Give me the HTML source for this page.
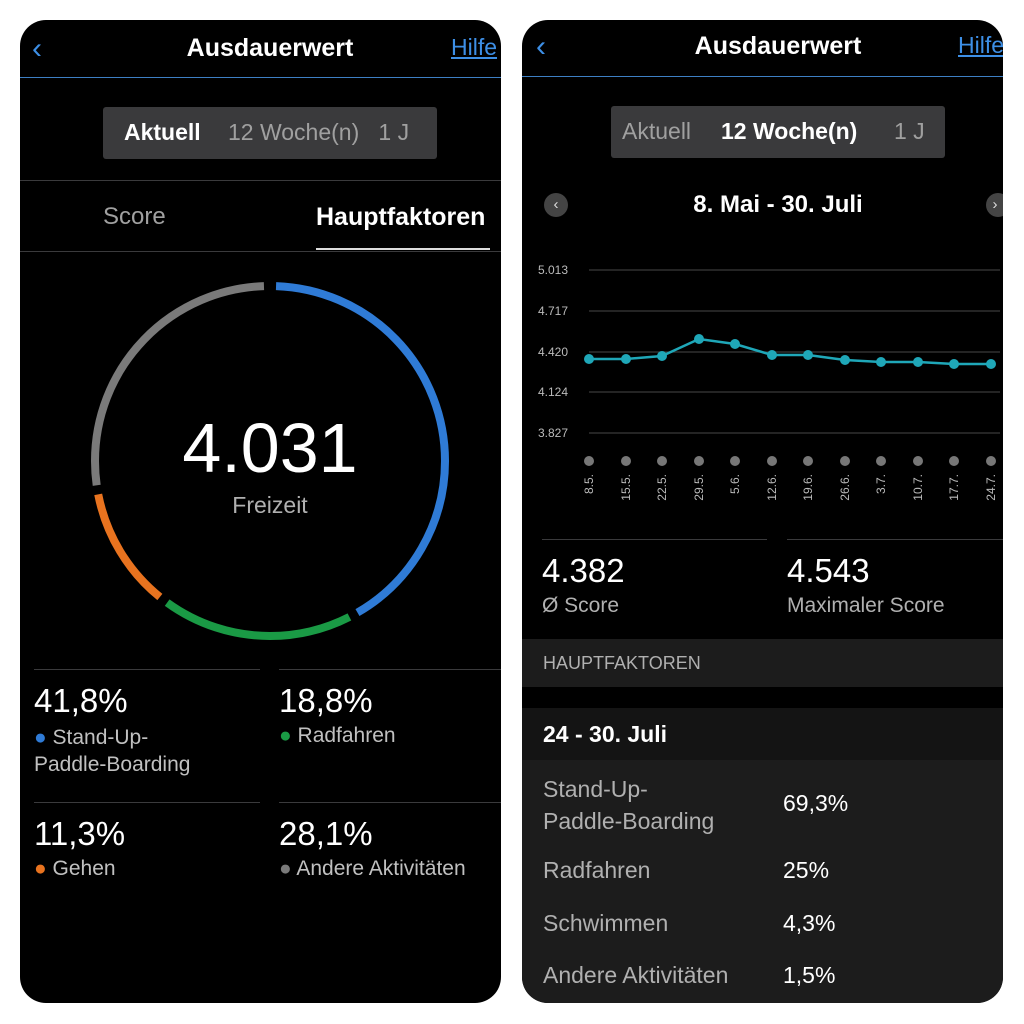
<!DOCTYPE html>
<html><head><meta charset="utf-8"><style>
*{margin:0;padding:0;box-sizing:border-box}
body{width:1024px;height:1024px;background:#fff;position:relative;overflow:hidden;font-family:"Liberation Sans",sans-serif;color:#fff}
.p{position:absolute;background:#000;border-radius:26px;overflow:hidden}
.a{position:absolute;white-space:nowrap}
.hl{position:absolute;height:1px;background:#3a3a3c}
</style></head><body>
<div class="p" style="left:20px;top:20px;width:481px;height:983px">
 <div class="a" style="left:12px;top:12px;color:#3d8fe6;font-size:30px">‹</div>
 <div class="a" style="left:0;width:500px;text-align:center;top:14px;font-size:25px;font-weight:bold">Ausdauerwert</div>
 <div class="a" style="left:431px;top:14px;font-size:23px;color:#3d8fe6;text-decoration:underline">Hilfe</div>
 <div style="position:absolute;left:0;top:57px;width:481px;height:1px;background:#3d7fc4"></div>
 <div style="position:absolute;left:83px;top:87px;width:334px;height:52px;background:#3a3a3c;border-radius:3px"></div>
 <div class="a" style="left:104px;top:99px;font-size:23px;font-weight:bold">Aktuell</div>
 <div class="a" style="left:208px;top:99px;font-size:23px;color:#a0a0a0">12 Woche(n)&nbsp;&nbsp;&nbsp;1 J</div>
 <div class="hl" style="left:0;top:160px;width:481px"></div>
 <div class="a" style="left:83px;top:183px;font-size:24px;color:#a0a0a0">Score</div>
 <div class="a" style="left:296px;top:183px;font-size:25px;font-weight:bold">Hauptfaktoren</div>
 <div style="position:absolute;left:296px;top:228px;width:174px;height:2px;background:#ddd"></div>
 <div class="hl" style="left:0;top:231px;width:481px"></div>
 <svg style="position:absolute;left:0;top:0" width="481" height="983">
  <g transform="translate(250,441) rotate(-90)" fill="none" stroke-width="8">
   <circle r="175" pathLength="360" stroke="#2f7bd6" stroke-dasharray="0 2 148 400"/>
   <circle r="175" pathLength="360" stroke="#1a9a45" stroke-dasharray="0 153 63 400"/>
   <circle r="175" pathLength="360" stroke="#e8731f" stroke-dasharray="0 219 40 400"/>
   <circle r="175" pathLength="360" stroke="#7a7a7a" stroke-dasharray="0 262 96 400"/>
  </g>
 </svg>
 <div class="a" style="left:0;width:500px;text-align:center;top:388px;font-size:70px">4.031</div>
 <div class="a" style="left:0;width:500px;text-align:center;top:472px;font-size:23px;color:#b0b0b0">Freizeit</div>
 <div class="hl" style="left:14px;top:649px;width:226px"></div>
 <div class="hl" style="left:259px;top:649px;width:222px"></div>
 <div class="a" style="left:14px;top:662px;font-size:33px">41,8%</div>
 <div class="a" style="left:14px;top:704px;font-size:21px;color:#c0c0c0;line-height:27px"><span style="color:#2f7bd6">●</span> Stand-Up-<br>Paddle-Boarding</div>
 <div class="a" style="left:259px;top:662px;font-size:33px">18,8%</div>
 <div class="a" style="left:259px;top:704px;font-size:21px;color:#c0c0c0"><span style="color:#1a9a45">●</span> Radfahren</div>
 <div class="hl" style="left:14px;top:782px;width:226px"></div>
 <div class="hl" style="left:259px;top:782px;width:222px"></div>
 <div class="a" style="left:14px;top:795px;font-size:33px">11,3%</div>
 <div class="a" style="left:14px;top:837px;font-size:21px;color:#c0c0c0"><span style="color:#e8731f">●</span> Gehen</div>
 <div class="a" style="left:259px;top:795px;font-size:33px">28,1%</div>
 <div class="a" style="left:259px;top:837px;font-size:21px;color:#c0c0c0"><span style="color:#7a7a7a">●</span> Andere Aktivitäten</div>
</div>

<div class="p" style="left:522px;top:20px;width:481px;height:983px">
 <div class="a" style="left:14px;top:10px;color:#3d8fe6;font-size:30px">‹</div>
 <div class="a" style="left:0;width:512px;text-align:center;top:12px;font-size:25px;font-weight:bold">Ausdauerwert</div>
 <div class="a" style="left:436px;top:12px;font-size:23px;color:#3d8fe6;text-decoration:underline">Hilfe</div>
 <div style="position:absolute;left:0;top:56px;width:481px;height:1px;background:#3d7fc4"></div>
 <div style="position:absolute;left:89px;top:86px;width:334px;height:52px;background:#3a3a3c;border-radius:3px"></div>
 <div class="a" style="left:100px;top:98px;font-size:23px;color:#a0a0a0">Aktuell</div>
 <div class="a" style="left:199px;top:98px;font-size:23px;font-weight:bold">12 Woche(n)</div>
 <div class="a" style="left:372px;top:98px;font-size:23px;color:#a0a0a0">1 J</div>
 <div style="position:absolute;left:22px;top:173px;width:24px;height:24px;border-radius:50%;background:#444;color:#ddd;font-size:15px;text-align:center;line-height:23px">‹</div>
 <div style="position:absolute;left:464px;top:173px;width:24px;height:24px;border-radius:50%;background:#444;color:#ddd;font-size:15px;text-align:center;line-height:23px;text-indent:-6px">›</div>
 <div class="a" style="left:0;width:512px;text-align:center;top:171px;font-size:24px;font-weight:bold">8. Mai - 30. Juli</div>
 <svg style="position:absolute;left:0;top:0" width="481" height="520" font-family="Liberation Sans" font-size="12" fill="#bbb">
  <g stroke="#3a3a3a" stroke-width="1.3">
   <line x1="67" x2="478" y1="250" y2="250"/><line x1="67" x2="478" y1="291" y2="291"/>
   <line x1="67" x2="478" y1="332" y2="332"/><line x1="67" x2="478" y1="372" y2="372"/>
   <line x1="67" x2="478" y1="413" y2="413"/>
  </g>
  <g text-anchor="end"><text x="46" y="254">5.013</text><text x="46" y="295">4.717</text><text x="46" y="336">4.420</text><text x="46" y="376">4.124</text><text x="46" y="417">3.827</text></g>
  <polyline fill="none" stroke="#1fa7b8" stroke-width="2.5" points="67,339 104,339 140,336 177,319 213,324 250,335 286,335 323,340 359,342 396,342 432,344 469,344"/>
  <g fill="#1fa7b8"><circle cx="67" cy="339" r="5"/><circle cx="104" cy="339" r="5"/><circle cx="140" cy="336" r="5"/><circle cx="177" cy="319" r="5"/><circle cx="213" cy="324" r="5"/><circle cx="250" cy="335" r="5"/><circle cx="286" cy="335" r="5"/><circle cx="323" cy="340" r="5"/><circle cx="359" cy="342" r="5"/><circle cx="396" cy="342" r="5"/><circle cx="432" cy="344" r="5"/><circle cx="469" cy="344" r="5"/></g>
  <g fill="#777"><circle cx="67" cy="441" r="5"/><circle cx="104" cy="441" r="5"/><circle cx="140" cy="441" r="5"/><circle cx="177" cy="441" r="5"/><circle cx="213" cy="441" r="5"/><circle cx="250" cy="441" r="5"/><circle cx="286" cy="441" r="5"/><circle cx="323" cy="441" r="5"/><circle cx="359" cy="441" r="5"/><circle cx="396" cy="441" r="5"/><circle cx="432" cy="441" r="5"/><circle cx="469" cy="441" r="5"/></g>
  <g text-anchor="end" font-size="12">
   <text transform="translate(71,454) rotate(-90)">8.5.</text><text transform="translate(108,454) rotate(-90)">15.5.</text><text transform="translate(144,454) rotate(-90)">22.5.</text><text transform="translate(181,454) rotate(-90)">29.5.</text><text transform="translate(217,454) rotate(-90)">5.6.</text><text transform="translate(254,454) rotate(-90)">12.6.</text><text transform="translate(290,454) rotate(-90)">19.6.</text><text transform="translate(327,454) rotate(-90)">26.6.</text><text transform="translate(363,454) rotate(-90)">3.7.</text><text transform="translate(400,454) rotate(-90)">10.7.</text><text transform="translate(436,454) rotate(-90)">17.7.</text><text transform="translate(473,454) rotate(-90)">24.7.</text>
  </g>
 </svg>
 <div class="hl" style="left:20px;top:519px;width:225px"></div>
 <div class="hl" style="left:265px;top:519px;width:216px"></div>
 <div class="a" style="left:20px;top:532px;font-size:33px">4.382</div>
 <div class="a" style="left:20px;top:574px;font-size:21px;color:#b0b0b0">Ø Score</div>
 <div class="a" style="left:265px;top:532px;font-size:33px">4.543</div>
 <div class="a" style="left:265px;top:574px;font-size:21px;color:#b0b0b0">Maximaler Score</div>
 <div style="position:absolute;left:0;top:619px;width:481px;height:48px;background:#1c1c1c"></div>
 <div class="a" style="left:21px;top:633px;font-size:18px;color:#b0b0b0">HAUPTFAKTOREN</div>
 <div style="position:absolute;left:0;top:688px;width:481px;height:52px;background:#141414"></div>
 <div class="a" style="left:21px;top:701px;font-size:23px;font-weight:bold">24 - 30. Juli</div>
 <div style="position:absolute;left:0;top:740px;width:481px;height:243px;background:#1c1c1c"></div>
 <div class="a" style="left:21px;top:753px;font-size:23px;color:#b0b0b0;line-height:32px">Stand-Up-<br>Paddle-Boarding</div>
 <div class="a" style="left:261px;top:770px;font-size:23px">69,3%</div>
 <div class="a" style="left:21px;top:837px;font-size:23px;color:#b0b0b0">Radfahren</div>
 <div class="a" style="left:261px;top:837px;font-size:23px">25%</div>
 <div class="a" style="left:21px;top:890px;font-size:23px;color:#b0b0b0">Schwimmen</div>
 <div class="a" style="left:261px;top:890px;font-size:23px">4,3%</div>
 <div class="a" style="left:21px;top:942px;font-size:23px;color:#b0b0b0">Andere Aktivitäten</div>
 <div class="a" style="left:261px;top:942px;font-size:23px">1,5%</div>
</div>
</body></html>
